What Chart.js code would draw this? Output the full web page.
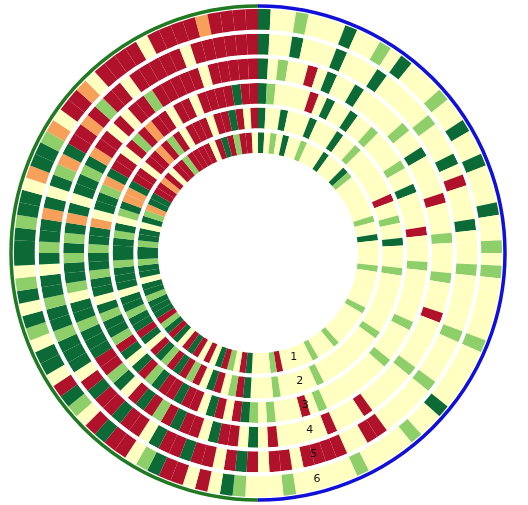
<!DOCTYPE html>
<html><head><meta charset="utf-8">
<script src="https://cdn.jsdelivr.net/npm/chart.js@4"></script>
<style>html,body{margin:0;padding:0;background:#fff}#w{width:516px;height:506px}</style>
</head><body><div id="w"><canvas id="c"></canvas></div>
<script>
// Each character = one 3° sector, clockwise from 12 o'clock. Ring 1 = innermost.
const ring1 = ["DYLYDYYLYY","YDYYYDLYYY","YYYYLYYDYY","YYLYYYYYYL","YYYYYYLYYY","LYYYYYRLYY","YDRYLRDYRY","RDRYDRDLRD","DDLDDYDDLD","DLDDYDLODD","RRORYRRLRR","RRYRDRLRRY"];
const ring2 = ["DYYDYYYDYY","YDYYLYYYYY","YYRYYLYYDY","YYLYYYYYYY","YLYYYYYYYY","YLYYYYYLYY","YDRLYRDYRL","RDRLDRYDRD","DLDDYDDDLD","DDLDYLDOOD","RRYRRORLRY","RRRYRRDRYR"];
const ring3 = ["DLYYYYRYDY","YDYYLYYYYL","YYDYYYYRYY","YLYYYYYYLY","YYYLYYYYYY","YYLYRYYYLY","LDRYRDYRRD","RRDLRDYDRL","DDLDYDDLDD","LDDOYDDLOD","RRYRLRORRY","RRYRRRRDRR"];
const ring4 = ["DYLYYRYDYY","DYYYYYLYYD","YYYYRYYYLY","YYLYYYRYYY","YYLYYYYYRY","YYRYYYYYRY","DYRRDYRRDR","LRDRYDLRRD","DDLDDYLDDL","DLDODYDDLD","ORRYRYRRLR","RRRRYRRRRR"];
const ring5 = ["DYYDYYYDYY","YDYYYYYLYY","YDYRYYYDYY","YLYYYYYLYY","YYLYYYYYRR","YYRRRRYRRY","RDRYRRDRRD","YRRDRRDRYD","DDLDDLDDYD","LDDODYDLOD","RRORLRRYRR","RRRYRRRRRR"];
const ring6 = ["DYYLYYYDYY","LYDYYYLYYD","YYDYYYDYYL","YLYYYYYLYY","YYYDYYLYYY","YLYYYYYLYY","YLDYRYRRDL","YRRDRYLDRY","DDYLDYDLYD","DDLDDYODDL","OYRROYRRRR","YRRRRORRRR"];
const ringLabels = ["1","2","3","4","5","6"];

const colorMap = {R:"#b1122b",O:"#f6a05a",Y:"#ffffc2",L:"#8fcf6a",G:"#3f9e4a",D:"#0b6a36"};
const rings = [ring1,ring2,ring3,ring4,ring5,ring6].map(r => r.join("").split(""));

const datasets = [];
const ringMeta = [];
for (let k = rings.length - 1; k >= 0; k--) {
  const codes = rings[k];
  ringMeta.push({k, idx: datasets.length});
  datasets.push({data: codes.map(() => 1), backgroundColor: codes.map(c => colorMap[c]), borderWidth: 0, weight: 8});
  if (k > 0) datasets.push({data: [1], backgroundColor: ["#ffffff"], borderWidth: 0, weight: 1.5});
}

const overlay = {
  id: "overlay",
  afterDatasetsDraw(chart) {
    const ctx = chart.ctx;
    const m0 = chart.getDatasetMeta(0).data[0];
    const cx = m0.x, cy = m0.y, R = m0.outerRadius + 3;
    ctx.save();
    ctx.lineWidth = 3.5;
    ctx.strokeStyle = "#1010d8";
    ctx.beginPath(); ctx.arc(cx, cy, R, -Math.PI/2, Math.PI/2); ctx.stroke();
    ctx.strokeStyle = "#1f7a22";
    ctx.beginPath(); ctx.arc(cx, cy, R, Math.PI/2, Math.PI*1.5); ctx.stroke();
    ctx.fillStyle = "#111";
    ctx.font = "11px 'DejaVu Sans'";
    ctx.textAlign = "center"; ctx.textBaseline = "middle";
    ringMeta.forEach(({k, idx}) => {
      const a = chart.getDatasetMeta(idx).data[0];
      const r = (a.innerRadius + a.outerRadius) / 2;
      const ang = Math.PI/2 - (0.33 - k*0.015);
      ctx.fillText(ringLabels[k], cx + r*Math.cos(ang), cy + r*Math.sin(ang));
    });
    ctx.restore();
  }
};

new Chart(document.getElementById("c"), {
  type: "doughnut",
  data: {datasets},
  options: {
    responsive: true, maintainAspectRatio: false, animation: false,
    cutout: "41%",
    layout: {padding: 9},
    plugins: {legend: {display: false}, tooltip: {enabled: false}}
  },
  plugins: [overlay]
});
</script></body></html>
